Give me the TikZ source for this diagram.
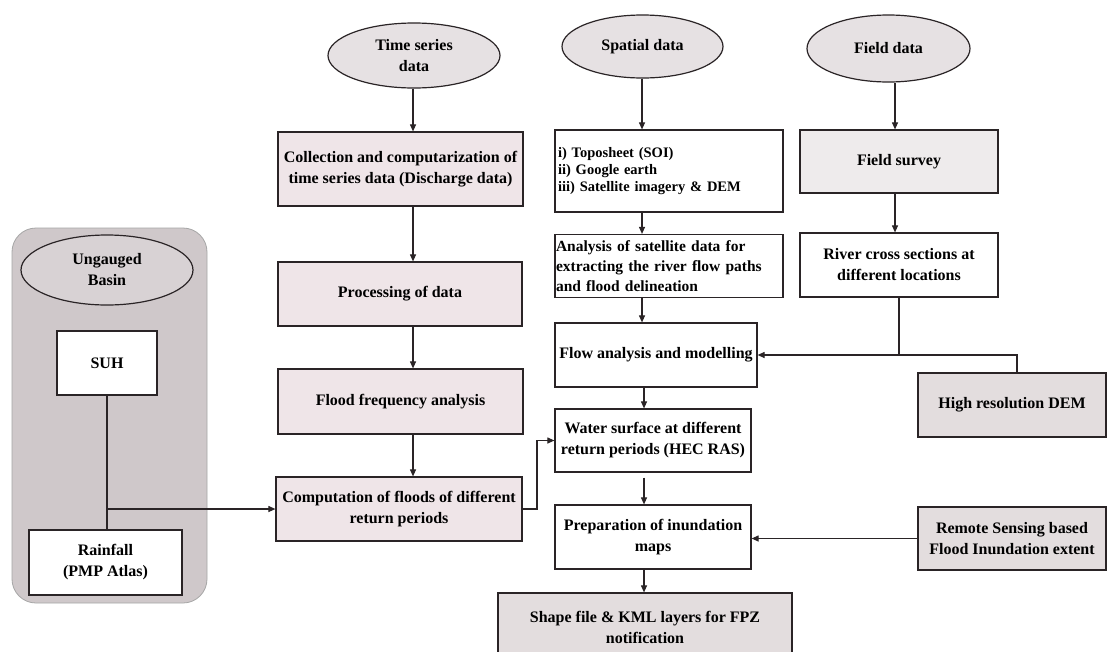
\documentclass[tikz,border=0pt]{standalone}
\usepackage{fontspec}
\setmainfont{Liberation Serif}
\usetikzlibrary{arrows.meta,shapes.geometric,calc}
\definecolor{pinkfill}{HTML}{EFE5E8}
\definecolor{ellfill}{HTML}{E6E1E3}
\definecolor{grayfill}{HTML}{E3DDDE}
\definecolor{panelfill}{HTML}{CFC8CA}
\definecolor{innerell}{HTML}{D8D2D4}
\definecolor{fsfill}{HTML}{EEEBEC}
\definecolor{linec}{HTML}{2A2426}
\tikzset{
  base/.style={draw=linec, line width=1.2pt, inner sep=0pt, align=center,
    font=\fontsize{16}{21}\selectfont\bfseries},
  boxw/.style={base, rectangle, fill=white},
  boxp/.style={base, rectangle, fill=pinkfill},
  boxg/.style={base, rectangle, fill=grayfill},
  ell/.style={base, ellipse, fill=ellfill},
  arr/.style={draw=linec, line width=1.1pt, -{Triangle[length=7pt,width=6pt]}},
  ln/.style={draw=linec, line width=1.1pt},
}
\begin{document}
\begin{tikzpicture}[x=1pt,y=-1pt]
\useasboundingbox (0,0) rectangle (1110,651);
\clip (0,0) rectangle (1110,651);
\fill[white] (0,0) rectangle (1110,651);

% Ungauged basin panel
\node[draw=gray!70, line width=0.8pt, fill=panelfill, rounded corners=24pt,
  minimum width=195pt, minimum height=375pt, inner sep=0pt] (panel) at (109.5,415.5) {};
\node[ell, fill=innerell, minimum width=172pt, minimum height=70pt] (ugE) at (107,270) {Ungauged\\Basin};
\node[boxw, minimum width=100pt, minimum height=64pt] (suh) at (107,363) {SUH};
\node[boxw, minimum width=153pt, minimum height=65pt] (rain) at (105.5,562.5) {Rainfall\\(PMP Atlas)};

% Time series column
\node[ell, minimum width=172pt, minimum height=65pt] (tsE) at (414,55.5) {Time series\\data};
\node[boxp, minimum width=245pt, minimum height=74pt] (coll) at (400.5,169) {Collection and computarization of\\time series data (Discharge data)};
\node[boxp, minimum width=244pt, minimum height=64pt] (proc) at (400,294) {Processing of data};
\node[boxp, minimum width=245pt, minimum height=65pt] (ffa) at (400.5,401.5) {Flood frequency analysis};
\node[boxp, minimum width=246pt, minimum height=64pt] (comp) at (399,509) {Computation of floods of different\\return periods};

% Spatial column
\node[ell, minimum width=161pt, minimum height=63pt] (spE) at (642.5,46.5) {Spatial data};
\node[boxw, minimum width=228pt, minimum height=82pt, align=left, text width=222pt,
  font=\fontsize{14.5}{17}\selectfont\bfseries] (list) at (669,171)
  {i) Toposheet (SOI)\\ii) Google earth\\iii) Satellite imagery \& DEM};
\node[boxw, minimum width=228pt, minimum height=63pt, align=left, text width=226pt,
  font=\fontsize{15.5}{20}\selectfont\bfseries] (anal) at (669,266)
  {Analysis of satellite data for\\extracting the river flow paths\\and flood delineation};
\node[boxw, minimum width=202pt, minimum height=64pt] (flow) at (656,355) {Flow analysis and modelling};
\node[boxw, minimum width=196pt, minimum height=63pt] (water) at (653,440.5) {Water surface at different\\return periods (HEC RAS)};
\node[boxw, minimum width=196pt, minimum height=64pt] (prep) at (653,537) {Preparation of inundation\\maps};
\node[boxg, minimum width=294pt, minimum height=68pt] (shape) at (645,627) {Shape file \& KML layers for FPZ\\notification};

% Field column
\node[ell, minimum width=163pt, minimum height=67pt] (fdE) at (888.5,48.5) {Field data};
\node[base, rectangle, fill=fsfill, minimum width=198pt, minimum height=63pt] (fs) at (899,161.5) {Field survey};
\node[boxw, minimum width=198pt, minimum height=64pt] (rc) at (899,265) {River cross sections at\\different locations};
\node[boxg, minimum width=188pt, minimum height=64pt] (dem) at (1012,405) {High resolution DEM};
\node[boxg, minimum width=188pt, minimum height=63pt] (rs) at (1012,538.5) {Remote Sensing based\\Flood Inundation extent};

% helper coordinates
\coordinate (xts) at (413,0);
\coordinate (xsp) at (642,0);
\coordinate (xfl) at (644,0);
\coordinate (xfd) at (895,0);
\coordinate (xdem) at (1017,0);
\coordinate (xcw) at (537,0);

% connectors
\draw[arr] (tsE.south -| xts) -- (coll.north -| xts);
\draw[arr] (coll.south -| xts) -- (proc.north -| xts);
\draw[arr] (proc.south -| xts) -- (ffa.north -| xts);
\draw[arr] (ffa.south -| xts) -- (comp.north -| xts);

\draw[arr] (spE.south -| xsp) -- (list.north -| xsp);
\draw[arr] (list.south -| xsp) -- (anal.north -| xsp);
\draw[arr] (anal.south -| xsp) -- (flow.north -| xsp);
\draw[arr] (flow.south -| xfl) -- (water.north -| xfl);
\draw[arr] ($(water.south -| xfl)+(0,5)$) -- (prep.north -| xfl);
\draw[arr] (prep.south -| xfl) -- (shape.north -| xfl);

\draw[arr] (fdE.south -| xfd) -- (fs.north -| xfd);
\draw[arr] (fs.south -| xfd) -- (rc.north -| xfd);
\coordinate (jrc) at (rc.south |- flow.east);
\draw[arr] (rc.south) -- (jrc) -- (flow.east);
\draw[ln] (dem.north -| xdem) -- (jrc -| xdem) -- (jrc);
\draw[arr] (rs.west) -- (rs.west -| prep.east);

\draw[ln] (suh.south) -- (rain.north -| suh.south);
\coordinate (jug) at (suh.south |- comp.west);
\draw[arr] (jug) -- (comp.west);
\draw[arr] (comp.east) -- (comp.east -| xcw) -- (water.west -| xcw) -- (water.west);
\end{tikzpicture}
\end{document}
